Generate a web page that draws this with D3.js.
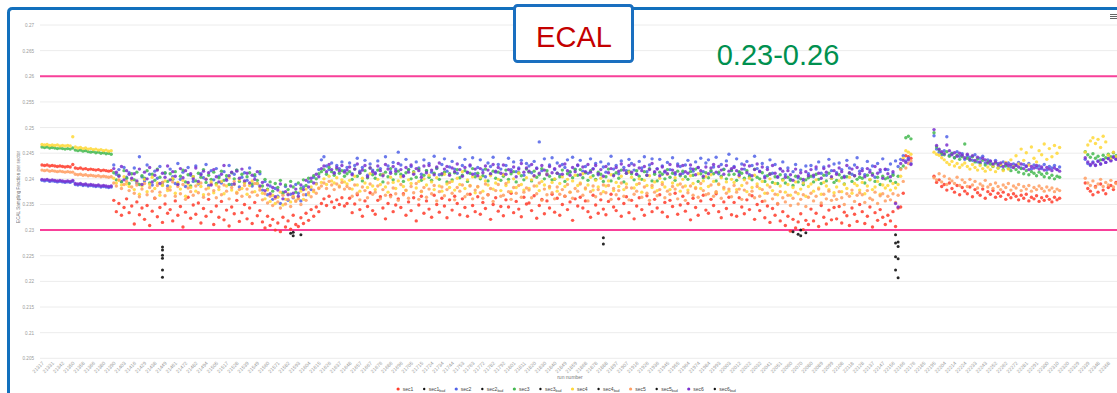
<!DOCTYPE html>
<html>
<head>
<meta charset="utf-8">
<script src="https://cdn.jsdelivr.net/npm/d3@7"></script>
<style>
  html, body { margin: 0; padding: 0; background: #fff; overflow: hidden; }
  text { font-family: "Liberation Sans", Arial, sans-serif; }
  .small-text { opacity: 0.99; }
</style>
</head>
<body>
<svg id="chart" width="1117" height="393"></svg>
<script>
// Run numbers (x categories)
const runs = [
21317,21320,21324,21327,21331,21333,21336,21339,21342,21344,
21346,21348,21350,21352,21354,21356,21358,21360,21362,21364,
21366,21369,21373,21376,21380,21382,21385,21388,21390,21393,
21396,21399,21403,21406,21410,21413,21416,21420,21425,21427,
21429,21431,21434,21436,21438,21441,21444,21446,21449,21452,
21455,21458,21461,21464,21466,21469,21472,21475,21478,21480,
21482,21485,21489,21491,21494,21497,21500,21503,21505,21508,
21511,21514,21517,21519,21522,21525,21528,21530,21533,21536,
21539,21541,21544,21547,21549,21552,21555,21558,21560,21563,
21566,21568,21571,21574,21577,21579,21582,21585,21588,21590,
21593,21596,21599,21601,21604,21607,21610,21612,21615,21618,
21621,21623,21626,21629,21632,21634,21637,21640,21643,21645,
21648,21650,21652,21655,21657,21660,21662,21664,21667,21669,
21672,21674,21676,21679,21681,21684,21686,21688,21691,21693,
21696,21698,21700,21703,21705,21708,21710,21712,21715,21717,
21720,21722,21724,21727,21729,21732,21734,21736,21739,21741,
21744,21746,21748,21751,21753,21756,21758,21760,21763,21765,
21768,21770,21772,21775,21777,21780,21782,21784,21787,21789,
21792,21794,21796,21799,21801,21804,21806,21808,21811,21813,
21816,21818,21820,21823,21825,21828,21830,21832,21835,21837,
21840,21842,21844,21847,21849,21852,21854,21856,21859,21861,
21864,21866,21868,21871,21873,21876,21878,21880,21883,21885,
21888,21890,21892,21895,21897,21900,21902,21904,21907,21909,
21912,21914,21916,21919,21921,21924,21926,21928,21931,21933,
21936,21938,21940,21943,21945,21948,21950,21952,21955,21957,
21960,21962,21964,21967,21969,21972,21974,21976,21979,21981,
21984,21986,21988,21991,21993,21996,21998,22000,22003,22005,
22008,22010,22012,22015,22017,22020,22022,22024,22027,22029,
22032,22034,22036,22039,22041,22044,22046,22048,22051,22053,
22056,22058,22060,22063,22065,22068,22070,22072,22075,22077,
22080,22082,22084,22087,22089,22092,22094,22096,22099,22101,
22104,22106,22108,22111,22113,22116,22118,22120,22123,22125,
22128,22130,22132,22135,22137,22140,22142,22144,22147,22149,
22152,22154,22156,22159,22161,22164,22166,22168,22171,22173,
22176,22178,22180,22183,22185,22188,22190,22192,22195,22197,
22200,22202,22204,22207,22209,22212,22214,22216,22219,22221,
22224,22226,22228,22231,22233,22236,22238,22240,22243,22245,
22248,22250,22252,22255,22257,22260,22262,22264,22267,22269,
22272,22274,22276,22279,22281,22284,22286,22288,22291,22293,
22296,22298,22300,22303,22305,22308,22310,22312,22315,22317,
22320,22322,22324,22327,22329,22332,22334,22336,22339,22341,
22344,22346,22348,22351,22353,22356,22358,22360,22363,22365
];

// Sampling fraction per sector, one value per run (null = no data)
const sec1 = [
.2427,.2426,.2427,.2425,.2426,.2425,.2424,.2425,.2424,.2423,
.2424,.2423,.2428,.2421,.2420,.2421,.2419,.2420,.2418,.2419,
.2418,.2417,.2418,.2416,.2417,.2416,.2415,.2416,.2358,.2336,
.2352,.2329,.2344,.2361,.2334,.2347,.2312,.2355,.2330,.2343,
.2321,.2348,.2309,.2337,.2362,.2326,.2344,.2315,.2351,.2333,
.2340,.2318,.2357,.2329,.2346,.2306,.2335,.2364,.2323,.2349,
.2331,.2353,.2314,.2342,.2327,.2360,.2336,.2311,.2347,.2325,
.2356,.2320,.2339,.2308,.2345,.2332,.2358,.2317,.2334,.2350,
.2322,.2343,.2313,.2354,.2328,.2338,.2316,.2304,.2327,.2309,
.2321,.2300,.2314,.2297,.2325,.2306,.2318,.2302,.2329,.2311,
.2307,.2324,.2313,.2333,.2319,.2340,.2327,.2345,.2336,.2352,
.2361,.2348,.2366,.2355,.2344,.2359,.2350,.2363,.2347,.2352,
.2362,.2334,.2351,.2369,.2340,.2327,.2357,.2346,.2373,.2338,
.2331,.2358,.2365,.2343,.2322,.2352,.2368,.2336,.2349,.2361,
.2344,.2371,.2329,.2355,.2338,.2363,.2318,.2349,.2366,.2333,
.2357,.2341,.2325,.2368,.2350,.2335,.2362,.2347,.2324,.2359,
.2339,.2366,.2352,.2330,.2361,.2344,.2327,.2370,.2348,.2336,
.2365,.2331,.2354,.2342,.2369,.2321,.2350,.2363,.2337,.2346,
.2328,.2359,.2345,.2372,.2334,.2356,.2341,.2326,.2364,.2351,
.2353,.2338,.2367,.2323,.2348,.2360,.2332,.2357,.2343,.2370,
.2335,.2362,.2329,.2350,.2366,.2340,.2355,.2319,.2361,.2347,
.2364,.2343,.2357,.2336,.2325,.2368,.2349,.2333,.2359,.2341,
.2330,.2356,.2370,.2345,.2338,.2361,.2327,.2352,.2365,.2334,
.2358,.2322,.2347,.2363,.2340,.2329,.2367,.2351,.2336,.2360,
.2343,.2369,.2335,.2354,.2326,.2358,.2346,.2372,.2331,.2349,
.2366,.2337,.2352,.2320,.2362,.2344,.2329,.2357,.2368,.2339,
.2333,.2360,.2348,.2371,.2336,.2324,.2355,.2342,.2364,.2330,
.2354,.2327,.2363,.2345,.2332,.2359,.2340,.2367,.2321,.2350,
.2338,.2356,.2324,.2347,.2315,.2342,.2329,.2351,.2318,.2336,
.2309,.2327,.2298,.2321,.2304,.2316,.2332,.2301,.2319,.2311,
.2341,.2318,.2333,.2307,.2348,.2325,.2312,.2339,.2320,.2344,
.2322,.2346,.2314,.2335,.2328,.2309,.2343,.2331,.2317,.2350,
.2336,.2313,.2327,.2345,.2306,.2334,.2319,.2340,.2325,.2311,
.2329,.2318,.2336,.2307,.2343,.2345,.2372,.2445,.2443,.2440,
null,null,null,null,null,null,null,null,.2405,.2393,
.2398,.2385,.2389,.2378,.2392,.2381,.2374,.2387,.2369,.2383,
.2376,.2371,.2384,.2365,.2379,.2373,.2368,.2380,.2362,.2375,
.2370,.2377,.2364,.2372,.2366,.2374,.2360,.2369,.2363,.2371,
.2366,.2359,.2368,.2362,.2370,.2357,.2364,.2361,.2367,.2356,
.2363,.2358,.2366,.2360,.2355,.2364,.2359,.2362,null,null,
null,null,null,null,null,null,null,.2392,.2381,.2376,
.2369,.2385,.2374,.2390,.2378,.2371,.2383,.2387,.2379,.2393
];

const sec2 = [
.2397,.2396,.2397,.2395,.2396,.2395,.2394,.2395,.2394,.2393,
.2394,.2393,.2395,.2389,.2388,.2389,.2387,.2388,.2386,.2387,
.2386,.2385,.2386,.2384,.2385,.2384,.2383,.2384,.2427,.2409,
.2418,.2395,.2422,.2403,.2412,.2398,.2421,.2392,.2443,.2404,
.2396,.2427,.2409,.2388,.2415,.2401,.2424,.2393,.2411,.2386,
.2419,.2404,.2391,.2430,.2399,.2413,.2385,.2422,.2407,.2395,
.2425,.2390,.2410,.2402,.2428,.2387,.2416,.2398,.2420,.2405,
.2392,.2414,.2400,.2426,.2389,.2409,.2417,.2384,.2403,.2412,
.2397,.2421,.2386,.2405,.2391,.2410,.2378,.2395,.2369,.2386,
.2360,.2381,.2366,.2352,.2374,.2385,.2358,.2370,.2363,.2389,
.2372,.2357,.2384,.2369,.2394,.2379,.2403,.2391,.2418,.2437,
.2443,.2425,.2418,.2431,.2412,.2426,.2420,.2433,.2416,.2422,
.2431,.2410,.2426,.2440,.2415,.2422,.2436,.2407,.2429,.2417,
.2412,.2435,.2420,.2409,.2443,.2425,.2414,.2432,.2419,.2452,
.2427,.2406,.2438,.2418,.2424,.2411,.2433,.2421,.2409,.2437,
.2416,.2430,.2413,.2444,.2420,.2408,.2428,.2439,.2415,.2423,
.2434,.2419,.2411,.2461,.2426,.2438,.2412,.2425,.2441,.2410,
.2422,.2437,.2417,.2404,.2431,.2424,.2442,.2413,.2428,.2419,
.2409,.2426,.2440,.2418,.2433,.2414,.2421,.2436,.2407,.2430,
.2425,.2412,.2434,.2421,.2472,.2416,.2439,.2410,.2427,.2441,
.2418,.2431,.2408,.2428,.2422,.2437,.2413,.2442,.2419,.2426,
.2436,.2415,.2424,.2411,.2439,.2420,.2430,.2408,.2433,.2423,
.2413,.2429,.2444,.2419,.2426,.2410,.2435,.2422,.2416,.2438,
.2430,.2417,.2409,.2434,.2421,.2443,.2414,.2427,.2439,.2412,
.2420,.2438,.2425,.2413,.2432,.2418,.2441,.2409,.2429,.2424,
.2411,.2427,.2436,.2420,.2415,.2433,.2422,.2440,.2414,.2431,
.2437,.2414,.2423,.2442,.2410,.2428,.2419,.2435,.2448,.2416,
.2424,.2439,.2412,.2429,.2419,.2434,.2408,.2426,.2444,.2420,
.2415,.2430,.2405,.2422,.2437,.2411,.2428,.2403,.2419,.2433,
.2408,.2421,.2399,.2414,.2428,.2402,.2417,.2395,.2425,.2410,
.2426,.2404,.2419,.2433,.2411,.2423,.2407,.2438,.2416,.2429,
.2412,.2431,.2418,.2405,.2436,.2421,.2409,.2427,.2441,.2415,
.2420,.2408,.2434,.2417,.2425,.2403,.2430,.2414,.2439,.2418,
.2418,.2429,.2410,.2435,.2424,.2438,.2445,.2435,.2440,.2430,
null,null,null,null,null,null,null,null,.2484,.2458,
.2452,.2447,.2455,.2482,.2446,.2450,.2441,.2453,.2444,.2449,
.2438,.2445,.2442,.2436,.2447,.2433,.2440,.2444,.2431,.2437,
.2434,.2428,.2436,.2430,.2425,.2433,.2427,.2431,.2423,.2429,
.2426,.2432,.2421,.2428,.2424,.2430,.2419,.2427,.2422,.2425,
.2420,.2428,.2417,.2424,.2421,.2426,.2418,.2423,null,null,
null,null,null,null,null,null,null,.2438,.2430,.2426,
.2433,.2427,.2435,.2429,.2438,.2432,.2440,.2436,.2443,.2439
];

const sec3 = [
.2462,.2461,.2462,.2460,.2461,.2460,.2459,.2460,.2459,.2458,
.2459,.2458,.2460,.2456,.2455,.2456,.2454,.2455,.2453,.2452,
.2453,.2451,.2452,.2450,.2451,.2449,.2450,.2448,.2412,.2398,
.2407,.2394,.2416,.2401,.2391,.2410,.2398,.2413,.2389,.2406,
.2401,.2416,.2392,.2409,.2397,.2419,.2403,.2388,.2412,.2395,
.2410,.2399,.2414,.2390,.2405,.2417,.2394,.2408,.2386,.2404,
.2396,.2411,.2403,.2418,.2393,.2407,.2399,.2413,.2391,.2402,
.2415,.2397,.2406,.2389,.2412,.2400,.2417,.2395,.2409,.2393,
.2404,.2412,.2390,.2408,.2397,.2414,.2386,.2399,.2380,.2394,
.2376,.2391,.2383,.2397,.2372,.2388,.2379,.2395,.2384,.2374,
.2392,.2381,.2398,.2387,.2401,.2395,.2406,.2400,.2410,.2414,
.2418,.2409,.2422,.2414,.2407,.2419,.2411,.2416,.2405,.2410,
.2414,.2399,.2419,.2405,.2411,.2396,.2416,.2402,.2421,.2408,
.2401,.2417,.2408,.2394,.2413,.2404,.2420,.2398,.2410,.2415,
.2409,.2395,.2412,.2418,.2400,.2414,.2403,.2419,.2397,.2407,
.2416,.2403,.2397,.2411,.2421,.2399,.2408,.2413,.2394,.2410,
.2398,.2412,.2418,.2402,.2407,.2416,.2395,.2411,.2420,.2404,
.2411,.2400,.2406,.2419,.2396,.2409,.2415,.2401,.2413,.2397,
.2405,.2417,.2399,.2410,.2414,.2394,.2412,.2406,.2398,.2419,
.2413,.2396,.2415,.2403,.2408,.2420,.2400,.2416,.2405,.2398,
.2399,.2411,.2404,.2417,.2395,.2410,.2414,.2402,.2418,.2407,
.2418,.2402,.2412,.2397,.2416,.2406,.2399,.2413,.2409,.2395,
.2404,.2419,.2396,.2408,.2412,.2401,.2417,.2394,.2411,.2415,
.2410,.2398,.2416,.2405,.2399,.2414,.2407,.2420,.2396,.2409,
.2396,.2413,.2409,.2400,.2418,.2403,.2411,.2397,.2415,.2406,
.2415,.2404,.2399,.2414,.2407,.2419,.2395,.2410,.2402,.2412,
.2402,.2416,.2410,.2396,.2413,.2405,.2418,.2400,.2408,.2417,
.2409,.2397,.2414,.2411,.2401,.2416,.2404,.2398,.2419,.2403,
.2400,.2412,.2395,.2406,.2410,.2393,.2404,.2391,.2408,.2399,
.2392,.2403,.2397,.2387,.2405,.2394,.2400,.2389,.2398,.2402,
.2405,.2394,.2409,.2399,.2391,.2407,.2396,.2411,.2401,.2393,
.2397,.2408,.2402,.2390,.2404,.2411,.2395,.2406,.2399,.2403,
.2401,.2392,.2407,.2398,.2410,.2395,.2403,.2389,.2405,.2400,
.2402,.2396,.2407,.2393,.2405,.2420,.2425,.2480,.2483,.2478,
null,null,null,null,null,null,null,null,.2490,.2462,
.2456,.2450,.2447,.2453,.2444,.2449,.2441,.2446,.2438,.2443,
.2468,.2440,.2436,.2443,.2433,.2439,.2430,.2436,.2427,.2433,
.2429,.2424,.2431,.2421,.2427,.2418,.2425,.2420,.2416,.2423,
.2418,.2413,.2420,.2410,.2416,.2408,.2414,.2411,.2406,.2413,
.2409,.2404,.2411,.2402,.2407,.2400,.2405,.2403,null,null,
null,null,null,null,null,null,null,.2453,.2447,.2442,
.2449,.2440,.2444,.2437,.2446,.2441,.2448,.2443,.2451,.2445
];

const sec4 = [
.2467,.2466,.2467,.2465,.2466,.2465,.2466,.2464,.2465,.2464,
.2465,.2464,.2482,.2462,.2460,.2461,.2459,.2460,.2458,.2459,
.2457,.2458,.2456,.2457,.2455,.2456,.2454,.2455,.2401,.2392,
.2397,.2388,.2404,.2390,.2385,.2398,.2379,.2394,.2370,.2386,
.2399,.2375,.2389,.2403,.2381,.2392,.2368,.2387,.2396,.2377,
.2384,.2401,.2372,.2393,.2380,.2397,.2366,.2390,.2383,.2404,
.2376,.2391,.2385,.2369,.2400,.2382,.2394,.2373,.2388,.2379,
.2395,.2371,.2386,.2402,.2378,.2389,.2374,.2398,.2381,.2392,
.2370,.2387,.2396,.2375,.2391,.2383,.2372,.2361,.2378,.2356,
.2368,.2352,.2364,.2374,.2349,.2360,.2371,.2355,.2366,.2358,
.2363,.2376,.2360,.2380,.2369,.2384,.2375,.2390,.2382,.2393,
.2400,.2389,.2405,.2396,.2392,.2402,.2386,.2398,.2394,.2390,
.2397,.2380,.2405,.2388,.2376,.2401,.2392,.2383,.2410,.2386,
.2379,.2399,.2389,.2408,.2384,.2374,.2403,.2393,.2381,.2396,
.2404,.2385,.2377,.2398,.2391,.2412,.2382,.2395,.2375,.2400,
.2388,.2407,.2394,.2379,.2402,.2386,.2376,.2409,.2390,.2383,
.2395,.2378,.2401,.2389,.2414,.2381,.2398,.2387,.2404,.2373,
.2384,.2403,.2376,.2396,.2388,.2406,.2380,.2392,.2399,.2377,
.2408,.2387,.2394,.2375,.2400,.2383,.2411,.2389,.2378,.2402,
.2381,.2398,.2405,.2386,.2377,.2395,.2388,.2409,.2382,.2393,
.2400,.2376,.2391,.2404,.2385,.2399,.2374,.2396,.2407,.2387,
.2392,.2410,.2380,.2388,.2403,.2378,.2397,.2384,.2401,.2375,
.2386,.2396,.2408,.2377,.2393,.2385,.2405,.2379,.2390,.2413,
.2403,.2382,.2389,.2400,.2374,.2397,.2387,.2406,.2383,.2394,
.2377,.2401,.2393,.2384,.2409,.2379,.2392,.2402,.2388,.2376,
.2399,.2386,.2378,.2406,.2391,.2383,.2410,.2381,.2396,.2404,
.2385,.2408,.2395,.2374,.2389,.2402,.2380,.2394,.2376,.2399,
.2393,.2379,.2404,.2387,.2398,.2375,.2401,.2383,.2407,.2390,
.2381,.2395,.2372,.2388,.2400,.2377,.2391,.2369,.2386,.2397,
.2374,.2389,.2368,.2383,.2394,.2371,.2380,.2392,.2366,.2385,
.2390,.2376,.2398,.2382,.2370,.2393,.2386,.2379,.2401,.2373,
.2384,.2396,.2375,.2389,.2381,.2403,.2372,.2391,.2387,.2378,
.2393,.2371,.2386,.2399,.2379,.2384,.2395,.2370,.2388,.2382,
.2387,.2378,.2391,.2382,.2389,.2405,.2440,.2455,.2452,.2448,
null,null,null,null,null,null,null,null,.2452,.2448,
.2446,.2441,.2437,.2432,.2428,.2434,.2425,.2430,.2422,.2427,
.2431,.2424,.2419,.2428,.2422,.2417,.2426,.2420,.2415,.2423,
.2418,.2425,.2414,.2421,.2428,.2416,.2432,.2419,.2437,.2423,
.2445,.2429,.2458,.2436,.2451,.2427,.2462,.2440,.2433,.2455,
.2447,.2468,.2438,.2459,.2443,.2465,.2450,.2461,null,null,
null,null,null,null,null,null,null,.2452,.2466,.2474,
.2480,.2469,.2477,.2461,.2483,.2472,.2446,.2439,.2452,.2443
];

const sec5 = [
.2417,.2416,.2417,.2415,.2416,.2415,.2414,.2415,.2414,.2413,
.2414,.2413,.2413,.2409,.2408,.2409,.2407,.2408,.2406,.2407,
.2406,.2405,.2406,.2404,.2405,.2404,.2403,.2404,.2392,.2386,
.2398,.2381,.2389,.2395,.2377,.2384,.2372,.2388,.2365,.2380,
.2391,.2369,.2383,.2376,.2362,.2387,.2374,.2393,.2367,.2381,
.2378,.2394,.2366,.2385,.2371,.2389,.2360,.2382,.2375,.2368,
.2386,.2373,.2392,.2364,.2380,.2370,.2390,.2377,.2363,.2384,
.2369,.2388,.2376,.2361,.2383,.2395,.2372,.2379,.2366,.2387,
.2380,.2365,.2374,.2391,.2368,.2378,.2359,.2371,.2353,.2366,
.2348,.2362,.2355,.2343,.2368,.2351,.2360,.2346,.2364,.2356,
.2361,.2350,.2369,.2358,.2373,.2365,.2378,.2372,.2381,.2386,
.2392,.2381,.2395,.2388,.2379,.2390,.2384,.2393,.2380,.2385,
.2381,.2366,.2388,.2372,.2359,.2384,.2377,.2363,.2390,.2370,
.2374,.2386,.2361,.2379,.2368,.2392,.2365,.2382,.2371,.2358,
.2389,.2369,.2378,.2362,.2385,.2373,.2391,.2360,.2376,.2383,
.2364,.2380,.2371,.2387,.2357,.2375,.2384,.2367,.2379,.2393,
.2372,.2359,.2383,.2376,.2388,.2365,.2370,.2386,.2361,.2378,
.2385,.2373,.2362,.2390,.2369,.2381,.2356,.2377,.2389,.2366,
.2368,.2391,.2375,.2360,.2383,.2372,.2387,.2364,.2374,.2382,
.2378,.2363,.2386,.2371,.2392,.2358,.2380,.2369,.2385,.2373,
.2361,.2384,.2370,.2379,.2366,.2389,.2374,.2362,.2381,.2376,
.2390,.2368,.2382,.2357,.2375,.2386,.2365,.2379,.2371,.2388,
.2373,.2387,.2360,.2381,.2369,.2377,.2392,.2366,.2383,.2359,
.2382,.2370,.2376,.2391,.2364,.2384,.2372,.2358,.2387,.2374,
.2367,.2379,.2389,.2363,.2376,.2370,.2385,.2380,.2361,.2390,
.2384,.2358,.2373,.2386,.2368,.2381,.2364,.2391,.2377,.2369,
.2371,.2388,.2366,.2375,.2390,.2362,.2383,.2372,.2380,.2365,
.2387,.2374,.2380,.2360,.2378,.2392,.2369,.2376,.2363,.2385,
.2366,.2379,.2357,.2372,.2384,.2361,.2370,.2352,.2375,.2363,
.2355,.2368,.2348,.2362,.2374,.2351,.2360,.2369,.2346,.2364,
.2372,.2357,.2366,.2380,.2353,.2370,.2361,.2376,.2358,.2367,
.2360,.2375,.2363,.2350,.2371,.2366,.2378,.2356,.2368,.2373,
.2369,.2354,.2377,.2362,.2359,.2374,.2352,.2367,.2371,.2357,
.2366,.2359,.2371,.2354,.2368,.2418,.2395,.2421,.2430,.2435,
null,null,null,null,null,null,null,null,.2402,.2398,
.2410,.2394,.2405,.2389,.2400,.2396,.2391,.2403,.2387,.2398,
.2393,.2385,.2399,.2388,.2395,.2382,.2390,.2386,.2397,.2384,
.2389,.2381,.2392,.2385,.2379,.2388,.2383,.2391,.2378,.2386,
.2382,.2389,.2377,.2385,.2380,.2387,.2376,.2383,.2379,.2386,
.2381,.2376,.2384,.2378,.2382,.2375,.2380,.2377,null,null,
null,null,null,null,null,null,null,.2401,.2392,.2387,
.2396,.2383,.2390,.2399,.2385,.2393,.2388,.2397,.2384,.2391
];

const sec6 = [
.2399,.2398,.2399,.2397,.2398,.2397,.2396,.2397,.2396,.2395,
.2396,.2395,.2397,.2391,.2390,.2391,.2389,.2390,.2388,.2389,
.2388,.2387,.2388,.2386,.2387,.2386,.2385,.2386,.2420,.2413,
.2405,.2424,.2398,.2416,.2409,.2401,.2410,.2396,.2419,.2389,
.2413,.2400,.2422,.2394,.2407,.2417,.2391,.2411,.2403,.2425,
.2398,.2414,.2405,.2389,.2420,.2402,.2416,.2393,.2410,.2400,
.2421,.2395,.2408,.2415,.2399,.2412,.2388,.2418,.2404,.2394,
.2409,.2426,.2397,.2406,.2413,.2390,.2415,.2401,.2419,.2396,
.2411,.2392,.2407,.2399,.2414,.2386,.2393,.2377,.2388,.2371,
.2383,.2365,.2378,.2390,.2361,.2375,.2369,.2386,.2372,.2380,
.2366,.2388,.2379,.2397,.2384,.2401,.2392,.2409,.2404,.2420,
.2425,.2414,.2428,.2418,.2411,.2422,.2416,.2426,.2413,.2417,
.2423,.2408,.2419,.2429,.2412,.2417,.2426,.2404,.2421,.2414,
.2410,.2425,.2416,.2406,.2428,.2419,.2411,.2424,.2415,.2430,
.2418,.2405,.2422,.2413,.2427,.2409,.2420,.2416,.2403,.2425,
.2412,.2426,.2417,.2408,.2423,.2431,.2410,.2419,.2424,.2407,
.2421,.2414,.2429,.2418,.2405,.2422,.2413,.2427,.2409,.2419,
.2406,.2420,.2412,.2425,.2417,.2410,.2428,.2415,.2422,.2411,
.2427,.2409,.2418,.2414,.2423,.2404,.2419,.2430,.2413,.2421,
.2415,.2428,.2406,.2420,.2411,.2426,.2417,.2408,.2424,.2412,
.2420,.2411,.2425,.2409,.2429,.2416,.2407,.2422,.2414,.2427,
.2408,.2423,.2414,.2428,.2413,.2419,.2426,.2410,.2418,.2405,
.2424,.2412,.2420,.2406,.2422,.2415,.2429,.2417,.2411,.2426,
.2413,.2427,.2409,.2421,.2416,.2424,.2407,.2418,.2430,.2414,
.2419,.2406,.2423,.2415,.2410,.2428,.2417,.2412,.2425,.2409,
.2426,.2414,.2411,.2427,.2419,.2408,.2422,.2416,.2405,.2423,
.2410,.2421,.2428,.2413,.2424,.2417,.2409,.2426,.2415,.2420,
.2422,.2416,.2407,.2419,.2427,.2412,.2425,.2406,.2418,.2429,
.2414,.2423,.2402,.2418,.2409,.2426,.2411,.2404,.2420,.2415,
.2403,.2416,.2408,.2397,.2419,.2405,.2412,.2399,.2414,.2406,
.2418,.2407,.2423,.2411,.2401,.2420,.2413,.2425,.2404,.2416,
.2409,.2421,.2414,.2403,.2426,.2412,.2419,.2406,.2422,.2410,
.2416,.2404,.2420,.2413,.2407,.2424,.2411,.2418,.2401,.2419,
.2410,.2404,.2414,.2352,.2345,.2430,.2436,.2432,.2437,.2428,
null,null,null,null,null,null,null,null,.2496,.2465,
.2458,.2453,.2449,.2466,.2455,.2447,.2451,.2444,.2450,.2446,
.2441,.2448,.2438,.2445,.2436,.2442,.2433,.2440,.2437,.2431,
.2435,.2429,.2433,.2427,.2431,.2424,.2430,.2426,.2428,.2422,
.2427,.2423,.2429,.2420,.2425,.2418,.2424,.2421,.2426,.2419,
.2423,.2417,.2422,.2419,.2416,.2421,.2418,.2415,null,null,
null,null,null,null,null,null,null,.2441,.2433,.2428,
.2431,.2426,.2434,.2429,.2437,.2432,.2439,.2435,.2442,.2438
];

// Runs flagged as bad: [run, value]
const sec1Bad = [[21446,.2208],[21585,.2294],[21588,.2289],[21596,.2291],[21885,.2285],
                 [22063,.2297],[22068,.2292],[22070,.2289],[22075,.2295],[22159,.2291],[22161,.2277]];
const sec2Bad = [[21446,.2261],[22159,.2275],[22161,.2268]];
const sec3Bad = [[21446,.2251],[22159,.2248]];
const sec4Bad = [[21446,.2267],[22159,.2222]];
const sec5Bad = [[21446,.2222],[21588,.2296],[21885,.2273],[22070,.2300],[22161,.2244]];
const sec6Bad = [[21446,.2245],[22161,.2207]];

// Axis ticks and reference limits
const yTickValues = [0.205,0.21,0.215,0.22,0.225,0.23,0.235,0.24,0.245,0.25,0.255,0.26,0.265,0.27];
const limits = [0.23, 0.26];
const labelStep = 4;

const series = [
  { name: "sec1", bad: false, color: "#ff3b2a", values: sec1 },
  { name: "sec1", bad: true,  color: "#111",    points: sec1Bad },
  { name: "sec2", bad: false, color: "#5062e8", values: sec2 },
  { name: "sec2", bad: true,  color: "#111",    points: sec2Bad },
  { name: "sec3", bad: false, color: "#43b84f", values: sec3 },
  { name: "sec3", bad: true,  color: "#111",    points: sec3Bad },
  { name: "sec4", bad: false, color: "#ffd836", values: sec4 },
  { name: "sec4", bad: true,  color: "#111",    points: sec4Bad },
  { name: "sec5", bad: false, color: "#ff9d62", values: sec5 },
  { name: "sec5", bad: true,  color: "#111",    points: sec5Bad },
  { name: "sec6", bad: false, color: "#7a30cf", values: sec6 },
  { name: "sec6", bad: true,  color: "#111",    points: sec6Bad }
];

const W = 1117, H = 393;
const plotLeft = 40, plotTop = 25, plotBottom = 358.3;

const svg = d3.select("#chart");

const x = d3.scalePoint().domain(runs).range([42, 1116]);
const y = d3.scaleLinear().domain([0.205, 0.27]).range([plotBottom, plotTop]);

// outer frame
svg.append("path")
  .attr("d", `M8.5,${H + 5} L8.5,12.5 Q8.5,8.5 12.5,8.5 L${W + 5},8.5`)
  .attr("fill", "none").attr("stroke", "#1270bd").attr("stroke-width", 3);

// horizontal grid
svg.append("g").selectAll("line").data(yTickValues).join("line")
  .attr("x1", plotLeft).attr("x2", W)
  .attr("y1", d => y(d)).attr("y2", d => y(d))
  .attr("stroke", "#ececec").attr("stroke-width", 1);

// y axis labels
const yAxis = d3.axisLeft(y).tickValues(yTickValues).tickSize(0).tickPadding(0)
  .tickFormat(d => String(+d.toFixed(3)));
svg.append("g").attr("class", "small-text").attr("transform", `translate(${plotLeft - 6},0)`).call(yAxis)
  .call(g => g.select(".domain").remove())
  .call(g => g.selectAll("text").attr("fill", "#9a9a9a")
    .style("font-size", "4.6px").style("font-family", "Liberation Sans, Arial, sans-serif"));

svg.append("g").attr("class", "small-text").append("text")
  .attr("transform", `translate(20,187) rotate(-90)`)
  .attr("text-anchor", "middle")
  .attr("fill", "#777").style("font-size", "4.6px")
  .text("ECAL Sampling Fraction per sector");

// x axis labels (every few runs)
const xAxis = d3.axisBottom(x)
  .tickValues(runs.filter((r, i) => i % labelStep === 0))
  .tickSize(0).tickPadding(0);
svg.append("g").attr("class", "small-text").attr("transform", `translate(0,${plotBottom + 5})`).call(xAxis)
  .call(g => g.select(".domain").remove())
  .call(g => g.selectAll("text")
    .attr("fill", "#9a9a9a")
    .style("font-size", "5px").style("font-family", "Liberation Sans, Arial, sans-serif")
    .attr("text-anchor", "end")
    .attr("dy", "0.3em").attr("y", 0).attr("x", 1)
    .attr("transform", "rotate(-45)"));

svg.append("g").attr("class", "small-text").append("text")
  .attr("x", 570).attr("y", 379).attr("text-anchor", "middle")
  .attr("fill", "#777").style("font-size", "5px")
  .text("run number");

// limit lines
svg.append("g").selectAll("line").data(limits).join("line")
  .attr("x1", plotLeft).attr("x2", W)
  .attr("y1", d => y(d)).attr("y2", d => y(d))
  .attr("stroke", "#f8409a").attr("stroke-width", 2);

// markers
const marks = svg.append("g");
series.forEach(s => {
  const pts = s.bad
    ? s.points.map(([r, v]) => ({ r, v }))
    : runs.map((r, i) => ({ r, v: s.values[i] })).filter(d => d.v != null);
  marks.append("g").selectAll("circle").data(pts).join("circle")
    .attr("cx", d => x(d.r)).attr("cy", d => y(d.v))
    .attr("r", s.bad ? 1.5 : 1.7)
    .attr("fill", s.color).attr("fill-opacity", s.bad ? 0.9 : 0.85);
});

// legend
const legend = svg.append("g").attr("class", "small-text").attr("transform", "translate(0,389)");
const items = [];
series.forEach(s => {
  const g = legend.append("g");
  g.append("circle").attr("cx", 0).attr("cy", 0).attr("r", s.bad ? 1.2 : 1.6).attr("fill", s.color);
  const t = g.append("text").attr("x", 4.5).attr("y", 1.7)
    .attr("fill", "#444").style("font-size", "5px");
  t.append("tspan").text(s.name);
  if (s.bad) t.append("tspan").attr("dy", 1.3).style("font-size", "3.6px").text("bad");
  const w = 4.5 + t.node().getComputedTextLength();
  items.push({ g, w });
});
const gap = 11;
const total = d3.sum(items, d => d.w) + gap * (items.length - 1);
let lx = 567 - total / 2;
items.forEach(it => { it.g.attr("transform", `translate(${lx},0)`); lx += it.w + gap; });

// ECAL label box
svg.append("rect")
  .attr("x", 514.5).attr("y", 5.5).attr("width", 118).attr("height", 56).attr("rx", 3)
  .attr("fill", "#fff").attr("stroke", "#1a6fc0").attr("stroke-width", 3);
svg.append("text")
  .attr("x", 574).attr("y", 47).attr("text-anchor", "middle")
  .attr("fill", "#c40000").style("font-size", "29px")
  .text("ECAL");

svg.append("text")
  .attr("x", 778).attr("y", 65).attr("text-anchor", "middle")
  .attr("fill", "#00904f").style("font-size", "29px")
  .text("0.23-0.26");

// menu icon
svg.append("g").selectAll("line").data([14.5, 16.5, 18.5]).join("line")
  .attr("x1", 1110).attr("x2", 1117).attr("y1", d => d).attr("y2", d => d)
  .attr("stroke", "#666").attr("stroke-width", 1);
</script>
</body>
</html>
